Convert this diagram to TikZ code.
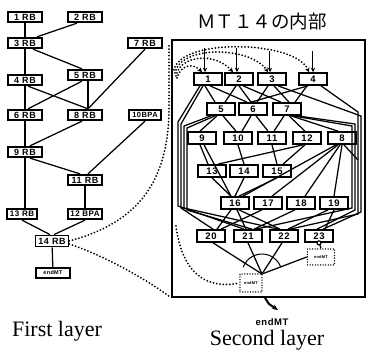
\documentclass[tikz,border=0pt]{standalone}
\usepackage{fontspec}
\setmainfont{Liberation Serif}
\setsansfont{Liberation Sans}[LetterSpace=6]
\newfontfamily\cjk{Noto Sans CJK JP}
\usetikzlibrary{arrows.meta}
\begin{document}
\begin{tikzpicture}[x=1pt,y=-1pt,
 rb/.style={draw,line width=1.8pt,fill=white,minimum width=34pt,minimum height=10.5pt,inner sep=0pt,font=\sffamily\bfseries\fontsize{9}{9}\selectfont},
 sb/.style={draw,line width=1.7pt,fill=white,minimum width=28pt,minimum height=12pt,inner sep=0pt,font=\sffamily\bfseries\fontsize{9.5}{10}\selectfont},
 ln/.style={line width=1.25pt},
 dotl/.style={line width=2pt,dash pattern=on 0pt off 3.3pt,line cap=round},
 dbox/.style={draw,line width=1.5pt,dash pattern=on 0pt off 2.6pt,line cap=round,inner sep=0pt,font=\sffamily\bfseries\fontsize{4}{4}\selectfont},
 arr/.style={line width=1pt,-{Stealth[length=4.5pt,width=4.5pt]}},
 big/.style={font=\fontsize{22}{24}\selectfont,anchor=base},
]
\useasboundingbox (0,0) rectangle (368,358);

% ---------- first layer ----------
\node[rb] (f1) at (25,17) {1 RB};
\node[rb] (f2) at (85,17) {2 RB};
\node[rb] (f3) at (25,43) {3 RB};
\node[rb] (f7) at (145,43) {7 RB};
\node[rb] (f4) at (25,80) {4 RB};
\node[rb] (f5) at (85,75) {5 RB};
\node[rb] (f6) at (25,115) {6 RB};
\node[rb] (f8) at (85,115) {8 RB};
\node[rb,minimum width=32pt,font=\sffamily\bfseries\fontsize{7.5}{8}\selectfont] (f10) at (145,115) {10BPA};
\node[rb] (f9) at (25,152) {9 RB};
\node[rb] (f11) at (85,180) {11 RB};
\node[rb,minimum width=30pt,font=\sffamily\bfseries\fontsize{8}{8}\selectfont] (f13) at (22,214) {13 RB};
\node[rb,font=\sffamily\bfseries\fontsize{8}{8}\selectfont] (f12) at (85,214) {12 BPA};
\node[rb,minimum width=33pt,minimum height=11pt] (f14) at (52,241) {14 RB};
\node[rb,font=\sffamily\bfseries\fontsize{5.5}{6}\selectfont] (fe) at (53,273) {endMT};

\draw[ln] (f1) -- (f3);
\draw[ln] ([xshift=-8pt]f2.south) -- ([xshift=12pt]f3.north);
\draw[ln] (f3) -- (f4);
\draw[ln] ([xshift=8pt]f3.south) -- ([xshift=-3pt]f5.north);
\draw[ln] ([xshift=3pt]f4.south) -- ([xshift=3pt]f8.north);
\draw[ln] ([xshift=-3pt]f5.south) -- ([xshift=3pt]f6.north);
\draw[ln] ([xshift=3pt]f5.south) -- ([xshift=3pt]f8.north);
\draw[ln] (f7.south) -- ([xshift=3pt]f8.north);
\draw[ln] (f4) -- (f6);
\draw[ln] (f6) -- (f9);
\draw[ln] ([xshift=-3pt]f8.south) -- ([xshift=5pt]f9.north);
\draw[ln] ([xshift=5pt]f9.south) -- ([xshift=-5pt]f11.north);
\draw[ln] (f10.south) -- ([xshift=3pt]f11.north);
\draw[ln] (f9.south) -- (f9.south |- f13.north);
\draw[ln] (f11) -- (f12);
\draw[ln] (f13.south) -- ([xshift=-2pt]f14.north);
\draw[ln] (f12.south) -- ([xshift=2pt]f14.north);
\draw[ln] (f14) -- (fe);

\node[big] (t1) at (57,337) {First layer};

% ---------- second layer ----------
\node[font=\cjk\fontsize{18.5}{19}\selectfont] (ttl) at (262,21) {ＭＴ１４の内部};
\coordinate (bxa) at (172,40);
\coordinate (bxb) at (365,297);
\draw[line width=2.2pt] (bxa) rectangle (bxb);

\node[sb] (s1) at (208,79) {1};
\node[sb] (s2) at (239,79) {2};
\node[sb] (s3) at (272,79) {3};
\node[sb] (s4) at (313,79) {4};
\node[sb] (s5) at (221,109) {5};
\node[sb] (s6) at (253,109) {6};
\node[sb] (s7) at (287,109) {7};
\node[sb] (s9) at (202,138) {9};
\node[sb] (s10) at (238,138) {10};
\node[sb] (s11) at (272,138) {11};
\node[sb] (s12) at (307,138) {12};
\node[sb] (s8) at (342,138) {8};
\node[sb] (s13) at (212,171) {13};
\node[sb] (s14) at (244,171) {14};
\node[sb] (s15) at (277,171) {15};
\node[sb] (s16) at (235,203) {16};
\node[sb] (s17) at (268,203) {17};
\node[sb] (s18) at (301,203) {18};
\node[sb] (s19) at (334,203) {19};
\node[sb] (s20) at (211,236) {20};
\node[sb] (s21) at (248,236) {21};
\node[sb] (s22) at (284,236) {22};
\node[sb] (s23) at (319,236) {23};

\node[dbox,minimum width=22pt,minimum height=18pt] (ie) at (251,283) {endMT};
\node[dbox,minimum width=27pt,minimum height=16pt] (ie2) at (321,257) {endMT};
\coordinate (cv) at (262,274);

% entry arrows
\coordinate (e1) at (205,48);
\coordinate (e2) at (237,48);
\coordinate (e3) at (270,51);
\coordinate (e4) at (313,51);
\draw[arr] (e1) -- (e1 |- s1.north);
\draw[arr] (e2) -- (e2 |- s2.north);
\draw[arr] (e3) -- (e3 |- s3.north);
\draw[arr] (e4) -- (e4 |- s4.north);
\draw[dotl,-{Stealth[length=4.5pt,width=4.5pt]}] (177,78) .. controls (180,66) and (192,62) .. ([xshift=-6pt]s1.north);
\draw[dotl,-{Stealth[length=4.5pt,width=4.5pt]}] (176,76) .. controls (180,55) and (215,52) .. ([xshift=-6pt]s2.north);
\draw[dotl,-{Stealth[length=4.5pt,width=4.5pt]}] (175,73) .. controls (180,45) and (250,46) .. ([xshift=-4pt]s3.north);
\draw[dotl,-{Stealth[length=4.5pt,width=4.5pt]}] (174,70) .. controls (180,38) and (295,40) .. ([xshift=-4pt]s4.north);

% row 1 -> row 2
\draw[ln] ([xshift=-3pt]s1.south) -- ([xshift=-6pt]s5.north);
\draw[ln] ([xshift=2pt]s1.south) -- ([xshift=-6pt]s6.north);
\draw[ln] ([xshift=-3pt]s2.south) -- ([xshift=4pt]s5.north);
\draw[ln] (s2.south) -- ([xshift=-2pt]s6.north);
\draw[ln] ([xshift=4pt]s2.south) -- ([xshift=-6pt]s7.north);
\draw[ln] ([xshift=-4pt]s3.south) -- ([xshift=4pt]s6.north);
\draw[ln] ([xshift=2pt]s3.south) -- ([xshift=2pt]s7.north);
\draw[ln] ([xshift=-6pt]s4.south) -- ([xshift=8pt]s7.north);
\draw[ln] ([xshift=-5pt]s4.south) -- ([xshift=-2pt]s6.north);

% left bundle
\draw[ln] ([xshift=-8pt]s1.south) -- (178,122) -- (178,206) -- ([xshift=-4pt]s21.north);
\draw[ln] ([xshift=-5pt]s1.south) -- (181,124) -- (181,208) -- ([xshift=2pt]s20.north);
\draw[ln] ([xshift=-10pt]s5.south) -- (184,126) -- (184,208) -- ([xshift=-6pt]s22.north);
\draw[ln] ([xshift=-6pt]s5.south) -- (187,128) -- (187,210) -- ([xshift=4pt]s21.north);
% right bundle
\draw[ln] ([xshift=6pt]s3.south) -- (361,116) -- (361,212) -- ([xshift=4pt]s23.north);
\draw[ln] ([xshift=8pt]s4.south) -- (358,112) -- (358,214) -- ([xshift=6pt]s22.north);
\draw[ln] ([xshift=10pt]s7.south) -- (355,124) -- (355,210) -- ([xshift=-2pt]s23.north);
\draw[ln] ([xshift=6pt]s7.south) -- (352,126) -- (352,208) -- ([xshift=8pt]s21.north);

% row 2 -> row 3
\draw[ln] ([xshift=-4pt]s5.south) -- ([xshift=-2pt]s9.north);
\draw[ln] ([xshift=2pt]s5.south) -- ([xshift=-2pt]s10.north);
\draw[ln] ([xshift=-2pt]s6.south) -- ([xshift=4pt]s10.north);
\draw[ln] ([xshift=3pt]s6.south) -- ([xshift=-4pt]s11.north);
\draw[ln] ([xshift=-3pt]s7.south) -- ([xshift=2pt]s11.north);
\draw[ln] ([xshift=2pt]s7.south) -- ([xshift=-2pt]s12.north);
\draw[ln] ([xshift=4pt]s7.south) -- ([xshift=-4pt]s8.north);

% row 3 -> row 4
\draw[ln] ([xshift=-2pt]s9.south) -- ([xshift=-4pt]s13.north);
\draw[ln] ([xshift=2pt]s9.south) -- ([xshift=-4pt]s16.north);
\draw[ln] (s10.south) -- (s14.north);
\draw[ln] (s11.south) -- (s15.north);
\draw[ln] ([xshift=-4pt]s12.south) -- ([xshift=6pt]s13.north);
\draw[ln] ([xshift=-2pt]s12.south) -- ([xshift=6pt]s15.north);
\draw[ln] ([xshift=-6pt]s8.south) -- ([xshift=8pt]s16.north);
\draw[ln] ([xshift=-4pt]s8.south) -- ([xshift=4pt]s17.north);
\draw[ln] ([xshift=-2pt]s8.south) -- ([xshift=4pt]s18.north);
\draw[ln] (s8.south) -- (s19.north);
\draw[ln] ([xshift=2pt]s8.south) -- (358,160);

% row 4 -> 16
\draw[ln] (s13.south) -- ([xshift=-4pt]s16.north);
\draw[ln] (s14.south) -- (s16.north);
\draw[ln] (s15.south) -- ([xshift=4pt]s16.north);

% row 5 -> row 6
\draw[ln] ([xshift=-4pt]s16.south) -- ([xshift=6pt]s20.north);
\draw[ln] ([xshift=2pt]s16.south) -- ([xshift=-2pt]s21.north);
\draw[ln] ([xshift=4pt]s16.south) -- ([xshift=-4pt]s22.north);
\draw[ln] ([xshift=-6pt]s17.south) -- ([xshift=10pt]s20.north);
\draw[ln] ([xshift=-6pt]s18.south) -- ([xshift=6pt]s21.north);
\draw[ln] ([xshift=-6pt]s19.south) -- ([xshift=4pt]s22.north);
\draw[ln] (s19.south) -- ([xshift=6pt]s23.north);

% to endMT
\draw[ln] ([xshift=2pt]s20.south) -- (cv);
\draw[ln] (s21.south) -- (cv);
\draw[ln] ([xshift=-2pt]s22.south) -- (cv);
\draw[ln] (ie2.west) -- (cv);
\draw[ln] (s23.south) -- (ie2.north);
\draw[line width=1.2pt,fill=white] (s23.south) circle[radius=2];
\draw[line width=1pt] ([shift={(200:20)}]cv) arc[start angle=200,end angle=340,radius=20];

% dotted links from 14 RB
\draw[dotl] (f14.east) .. controls (140,222) and (168,180) .. (169,110) -- (169,44);
\draw[dotl] ([yshift=-3pt]f14.east) .. controls (110,258) and (150,282) .. (170,297);
\draw[dotl] (176,226) .. controls (182,272) and (205,290) .. (ie.west);

% endMT pointer
\coordinate (pa) at (265,298);
\coordinate (pb) at (278,310);
\draw[line width=2pt,-{Stealth[length=6pt,width=5pt]}] (pa) -- (269,304) -- (pb);
\node[font=\sffamily\bfseries\fontsize{9.5}{10}\selectfont] (eml) at (272,322) {endMT};

\node[big] (t2) at (267,346) {Second layer};
\end{tikzpicture}
\end{document}
